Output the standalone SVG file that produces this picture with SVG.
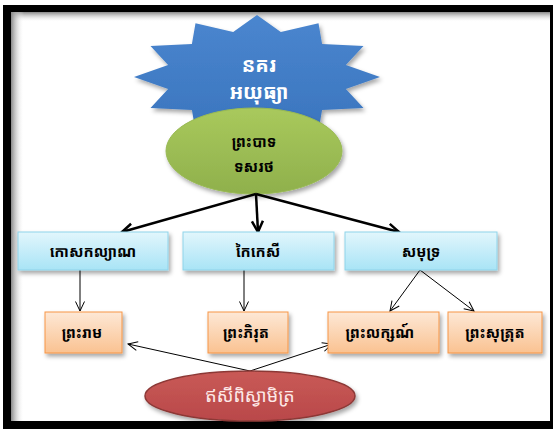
<svg xmlns="http://www.w3.org/2000/svg" width="554" height="429" viewBox="0 0 554 429">
<defs>
<style>
.kh{font-family:"Noto Sans Khmer","Khmer OS","Khmer OS System","Noto Sans","DejaVu Sans",sans-serif;text-anchor:middle}
.b{font-weight:bold;font-size:15px;fill:#000}
.thick{stroke:#000;stroke-width:2.5;fill:none;marker-end:url(#ah1)}
.thin{stroke:#000;stroke-width:1;fill:none;marker-end:url(#ah2)}
.blue{fill:url(#gBlue);stroke:#8fd3ea;stroke-width:1;filter:url(#sh)}
.orange{fill:url(#gOr);stroke:#f79646;stroke-width:1;filter:url(#sh)}
</style>
<linearGradient id="gBlue" x1="0" y1="0" x2="0" y2="1"><stop offset="0" stop-color="#e2f6fc"/><stop offset="1" stop-color="#a9e4f6"/></linearGradient>
<linearGradient id="gOr" x1="0" y1="0" x2="0" y2="1"><stop offset="0" stop-color="#fde8d6"/><stop offset="1" stop-color="#fac291"/></linearGradient>
<linearGradient id="gStar" x1="0" y1="0" x2="0" y2="1"><stop offset="0" stop-color="#4a86cf"/><stop offset="1" stop-color="#3a74bd"/></linearGradient>
<linearGradient id="gGreen" x1="0" y1="0" x2="0" y2="1"><stop offset="0" stop-color="#a9c95c"/><stop offset="1" stop-color="#8fb04c"/></linearGradient>
<linearGradient id="gRed" x1="0" y1="0" x2="0" y2="1"><stop offset="0" stop-color="#c95a56"/><stop offset="1" stop-color="#b9484a"/></linearGradient>
<linearGradient id="gTop" x1="0" y1="0" x2="0" y2="1"><stop offset="0" stop-color="#888"/><stop offset="1" stop-color="#fff" stop-opacity="0"/></linearGradient>
<linearGradient id="gLeft" x1="0" y1="0" x2="1" y2="0"><stop offset="0" stop-color="#888"/><stop offset="1" stop-color="#fff" stop-opacity="0"/></linearGradient>
<filter id="sh" x="-20%" y="-20%" width="150%" height="160%"><feDropShadow dx="2" dy="3" stdDeviation="2" flood-color="#000" flood-opacity="0.35"/></filter>
<marker id="ah1" markerUnits="userSpaceOnUse" viewBox="0 0 14 14" markerWidth="14" markerHeight="14" refX="12.5" refY="7" orient="auto"><path d="M1.5,1.5 L12.5,7 L1.5,12.5" fill="none" stroke="#000" stroke-width="2.5"/></marker>
<marker id="ah2" markerUnits="userSpaceOnUse" viewBox="0 0 12 12" markerWidth="12" markerHeight="12" refX="11" refY="6" orient="auto"><path d="M1.5,1.5 L11,6 L1.5,10.5" fill="none" stroke="#000" stroke-width="1"/></marker>
</defs>
<rect x="3" y="5" width="550" height="424" fill="#000"/>
<rect x="11" y="12" width="539" height="409" fill="#fff"/>
<rect x="11" y="12" width="539" height="10" fill="url(#gTop)"/>
<rect x="11" y="12" width="13" height="409" fill="url(#gLeft)"/>
<g id="star">
<polygon points="257,15 280.8,32.1 318.5,23.3 322.1,44.1 363.5,46 345.9,65 380,77 345.9,89 363.5,108 322.1,109.9 318.5,130.7 280.8,121.9 257,139 233.2,121.9 195.5,130.7 191.9,109.9 150.5,108 168.1,89 134,77 168.1,65 150.5,46 191.9,44.1 195.5,23.3 233.2,32.1" fill="url(#gStar)" filter="url(#sh)"/>
<text class="kh" x="259" y="72" font-size="20" font-weight="bold" fill="#fff">នគរ</text>
<text class="kh" x="259" y="99" font-size="20" font-weight="bold" fill="#fff">អយុធ្យា</text>
</g>
<g id="dasaratha">
<ellipse cx="254" cy="151" rx="88" ry="43" fill="url(#gGreen)" stroke="#98b954" stroke-width="1" filter="url(#sh)"/>
<text class="kh b" x="254" y="147" font-size="16">ព្រះបាទ</text>
<text class="kh b" x="254" y="172" font-size="16">ទសរថ</text>
</g>
<g id="connectors">
<line class="thick" x1="256" y1="194" x2="122" y2="232"/>
<line class="thick" x1="256" y1="194" x2="258" y2="232"/>
<line class="thick" x1="256" y1="194" x2="399" y2="232"/>
<line class="thin" x1="80" y1="270" x2="80" y2="311"/>
<line class="thin" x1="244" y1="270" x2="244" y2="311"/>
<line class="thin" x1="420" y1="270" x2="390" y2="311"/>
<line class="thin" x1="420" y1="270" x2="474" y2="311"/>
<line class="thin" x1="250" y1="371" x2="128" y2="344"/>
<line class="thin" x1="250" y1="371" x2="332" y2="344"/>
</g>
<g id="kausalya"><rect class="blue" x="18" y="232" width="150" height="38"/><text class="kh b" x="93" y="257">កោសកល្យាណ</text></g>
<g id="kaikeyi"><rect class="blue" x="183" y="232" width="151" height="38"/><text class="kh b" x="258" y="257">កៃកេសី</text></g>
<g id="samudra"><rect class="blue" x="345" y="232" width="152" height="38"/><text class="kh b" x="421" y="257">សមុទ្រ</text></g>
<g id="rama"><rect class="orange" x="45" y="312" width="77" height="41"/><text class="kh b" x="82" y="338">ព្រះរាម</text></g>
<g id="bharata"><rect class="orange" x="208" y="312" width="80" height="41"/><text class="kh b" x="246" y="338">ព្រះភិរុត</text></g>
<g id="lakshmana"><rect class="orange" x="328" y="312" width="111" height="41"/><text class="kh b" x="380" y="338">ព្រះលក្សណ៍</text></g>
<g id="shatrughna"><rect class="orange" x="448" y="312" width="94" height="41"/><text class="kh b" x="495" y="338">ព្រះសុត្រុត</text></g>
<g id="vishvamitra">
<ellipse cx="250" cy="396" rx="105" ry="25" fill="url(#gRed)" stroke="#8c3836" stroke-width="1.5" filter="url(#sh)"/>
<text class="kh" x="250" y="402" font-size="18" fill="#fde9e8">ឥសីពិស្វាមិត្រ</text>
</g>
</svg>
